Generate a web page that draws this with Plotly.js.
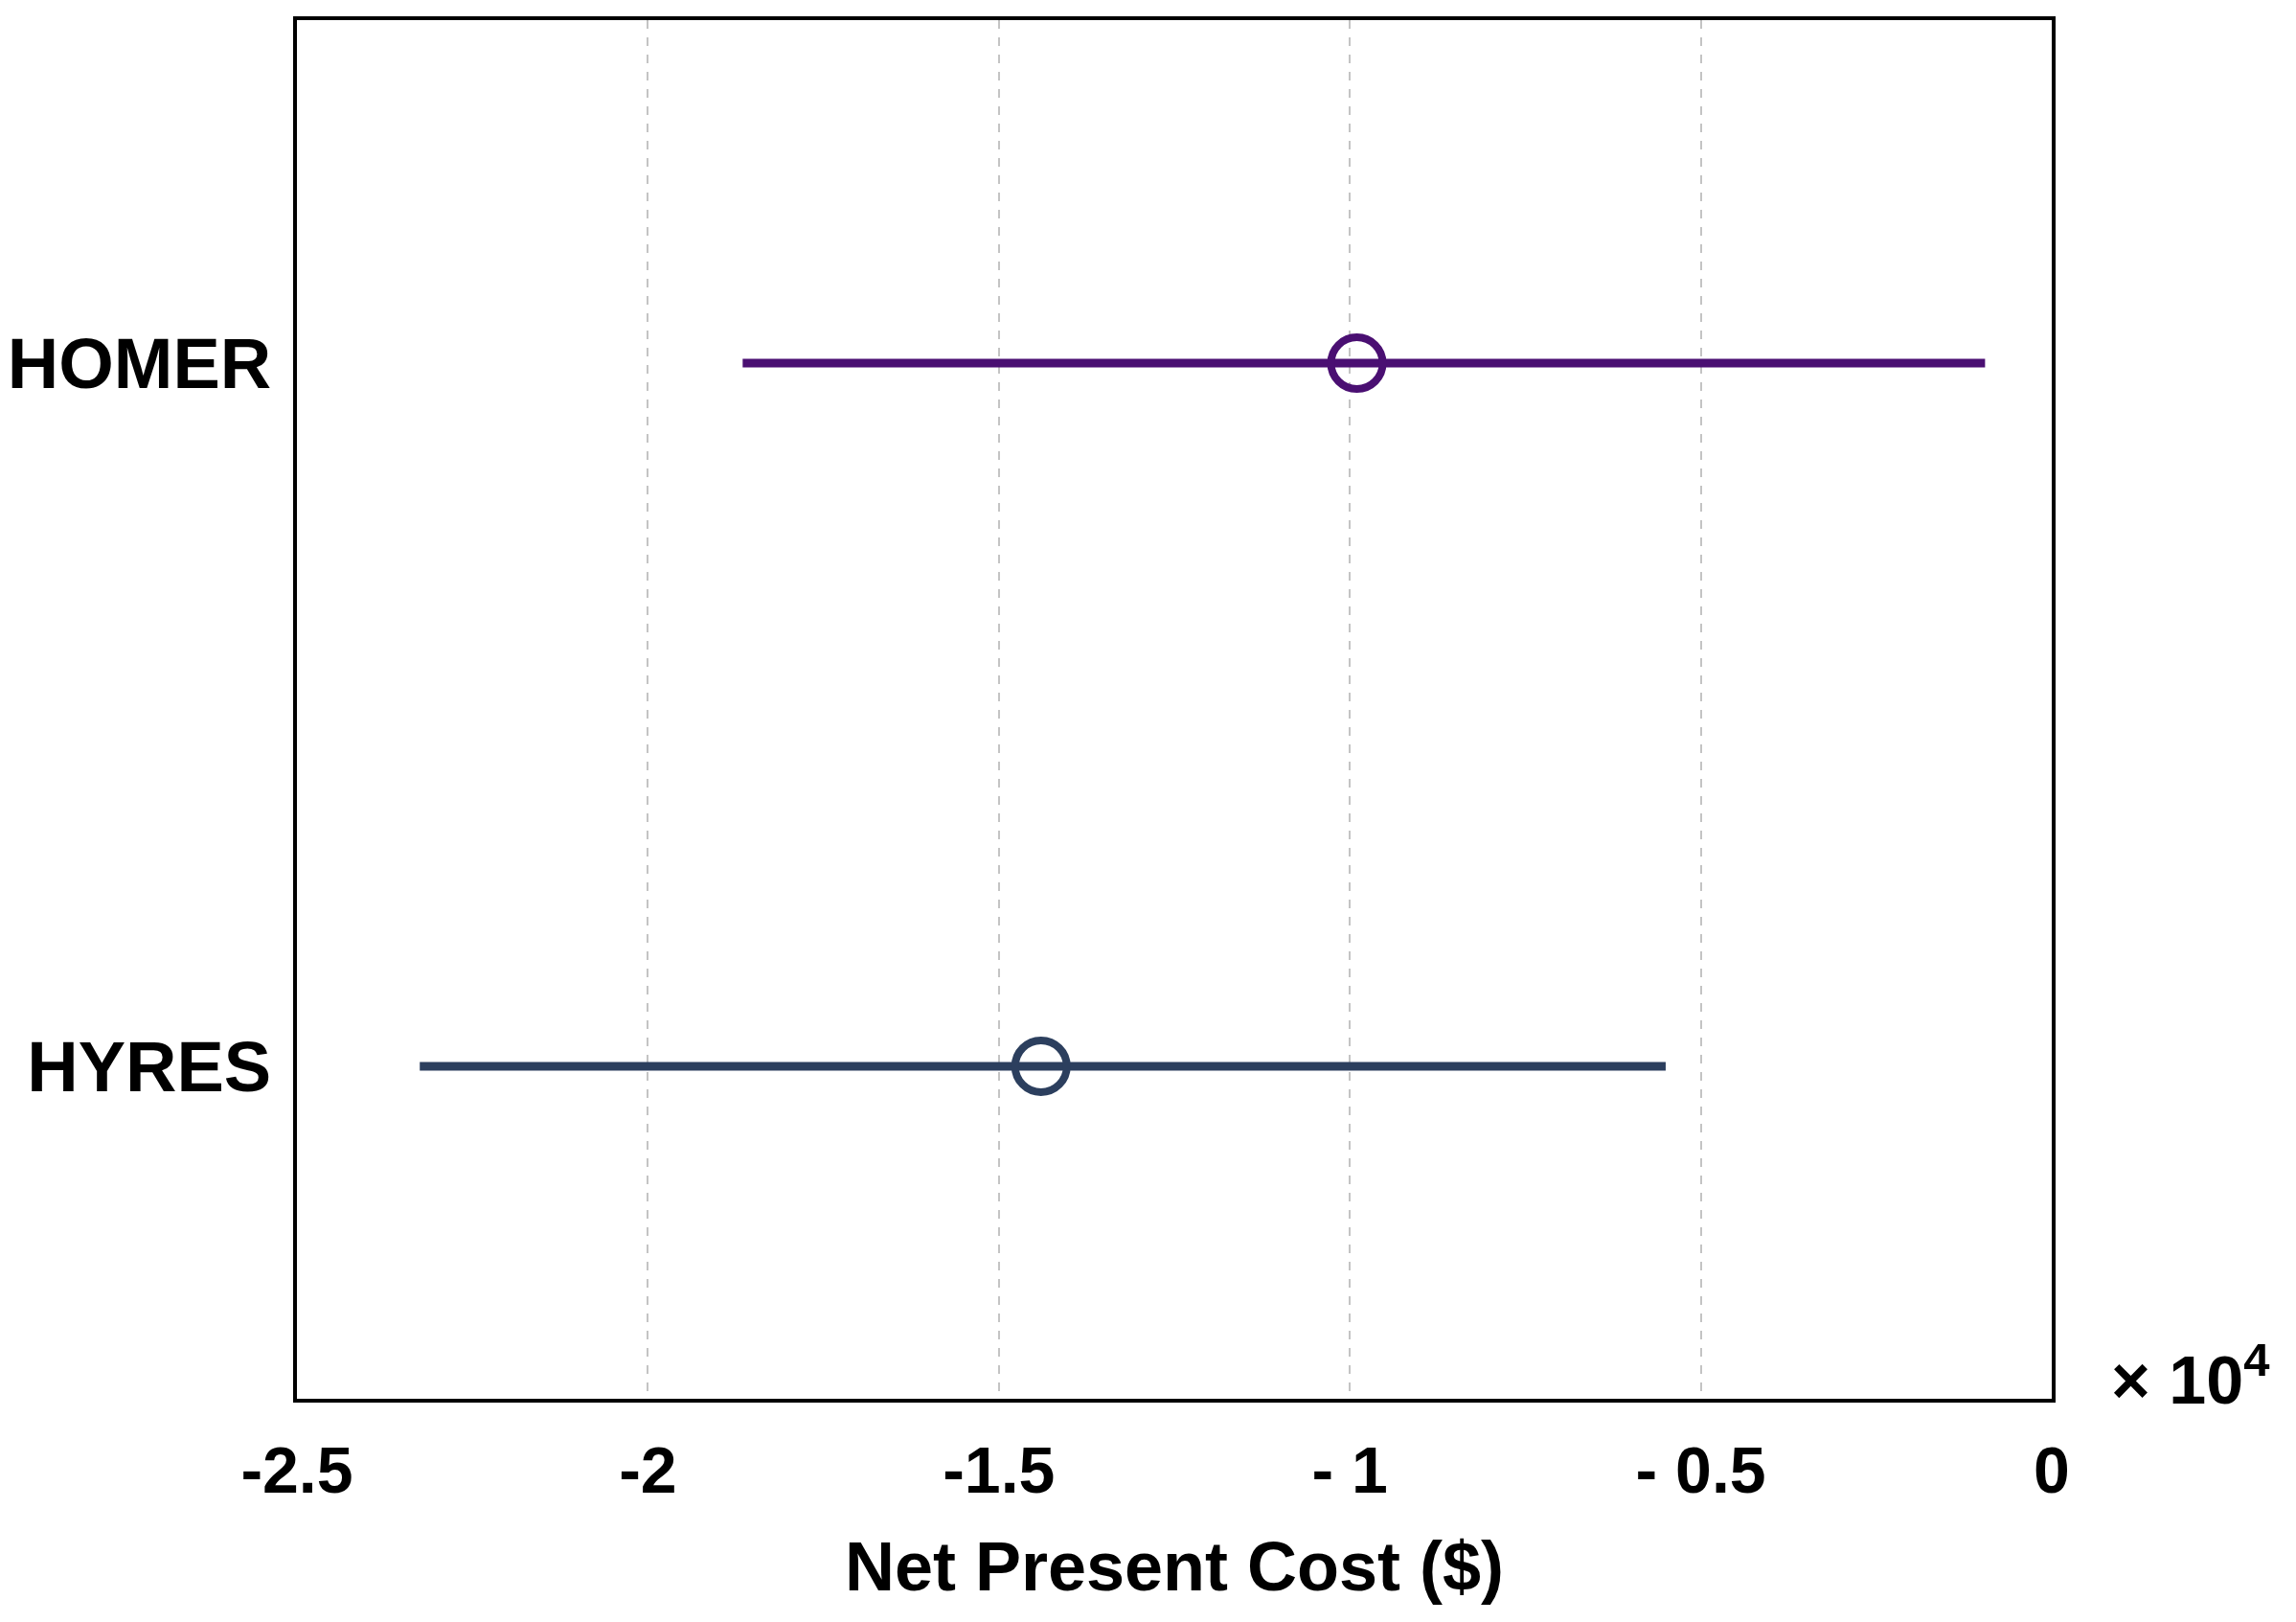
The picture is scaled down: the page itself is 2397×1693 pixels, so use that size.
<!DOCTYPE html>
<html>
<head>
<meta charset="utf-8">
<script src="https://cdn.plot.ly/plotly-3.0.1.min.js"></script>
<style>html,body{margin:0;padding:0;background:#fff;}#chart{width:2397px;height:1693px;}</style>
</head>
<body>
<div id="chart"></div>
<script>
// Data (values in $)
const categories = ["HOMER", "HYRES"];
const categoryPos = [1, 0];
const centerValues = [-9900, -14400];
const lowValues = [-18650, -23250];
const highValues = [-950, -5500];
const seriesColors = ["#4a0f72", "#2c3f5e"];
const tickValues = [-25000, -20000, -15000, -10000, -5000, 0];
const tickLabels = ["-2.5", "-2", "-1.5", "- 1", "- 0.5", "0"];

const traces = [];
for (let i = 0; i < categories.length; i++) {
  traces.push({
    type: "scatter", mode: "lines",
    x: [lowValues[i], highValues[i]],
    y: [categoryPos[i], categoryPos[i]],
    line: {color: seriesColors[i], width: 9},
    showlegend: false, hoverinfo: "skip"
  });
  traces.push({
    type: "scatter", mode: "markers",
    x: [centerValues[i]],
    y: [categoryPos[i]],
    marker: {symbol: "circle-open", size: 54, color: seriesColors[i], line: {width: 8, color: seriesColors[i]}},
    showlegend: false, name: categories[i]
  });
}

const fontFam = "Liberation Sans, Arial, sans-serif";
const layout = {
  width: 2397, height: 1693,
  margin: {l: 310, r: 255, t: 21, b: 233},
  paper_bgcolor: "#ffffff", plot_bgcolor: "#ffffff",
  font: {family: fontFam, color: "#000"},
  xaxis: {
    range: [-25000, 0],
    tickmode: "array", tickvals: tickValues, ticktext: tickLabels,
    tickfont: {family: fontFam, size: 68, weight: "bold", color: "#000"},
    ticks: "", ticklabelstandoff: 12,
    showgrid: true, gridcolor: "#c4c4c4", griddash: "dash", gridwidth: 2,
    showline: true, linecolor: "#000", linewidth: 4, mirror: true,
    zeroline: false,
    title: {text: "<b>Net Present Cost ($)</b>", font: {family: fontFam, size: 72, color: "#000"}, standoff: 40}
  },
  yaxis: {
    range: [-0.473, 1.488],
    tickmode: "array", tickvals: categoryPos, ticktext: categories.map(c => "<b>" + c + "</b>"),
    tickfont: {family: fontFam, size: 74, color: "#000"},
    ticks: "", ticklabelstandoff: 8,
    showgrid: false, zeroline: false,
    showline: true, linecolor: "#000", linewidth: 4, mirror: true
  },
  annotations: [{
    xref: "paper", yref: "paper", x: 1.033, y: 0.017, xanchor: "left", yanchor: "middle",
    text: "<b>× 10<sup>4</sup></b>", showarrow: false,
    font: {family: fontFam, size: 70, color: "#000"}
  }]
};

Plotly.newPlot("chart", traces, layout, {displayModeBar: false, staticPlot: true});
</script>
</body>
</html>
